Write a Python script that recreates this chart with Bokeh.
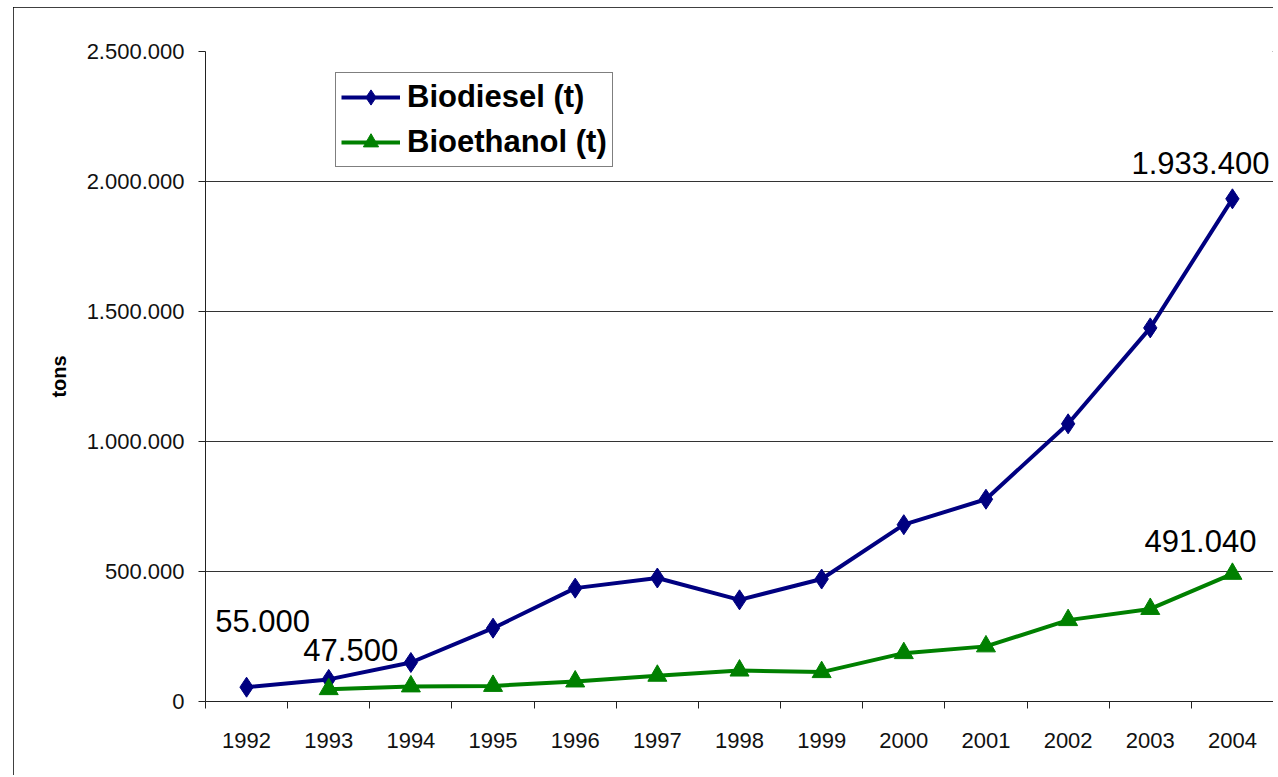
import math
from bokeh.plotting import figure
from bokeh.models import FixedTicker, Legend, LegendItem, ColumnDataSource
from bokeh.core.properties import value
from bokeh.embed import file_html
from bokeh.resources import INLINE

# ---- data ----
years = ["1992", "1993", "1994", "1995", "1996", "1997", "1998",
         "1999", "2000", "2001", "2002", "2003", "2004"]
biodiesel = [55000, 85000, 150000, 282000, 436000, 475000, 391000,
             471000, 680000, 778000, 1068000, 1437000, 1933400]
bioethanol = [math.nan, 47500, 58000, 60000, 77000, 99000, 119000,
              113000, 186000, 212000, 313000, 356000, 491040]
y_ticks = [0, 500000, 1000000, 1500000, 2000000, 2500000]
y_tick_labels = ["0", "500.000", "1.000.000", "1.500.000", "2.000.000", "2.500.000"]
# annotated points: (series, year)
annotated = [("Biodiesel", "1992"), ("Bioethanol", "1993"),
             ("Biodiesel", "2004"), ("Bioethanol", "2004")]
# label offsets in pixels (style)
label_offsets = [(16, -66), (22, -39), (-32, -36), (-32, -33)]

FONT = "Liberation Sans"
BLUE = "#000080"
GREEN = "#008000"

xs = list(range(1, len(years) + 1))

p = figure(frame_width=1068, frame_height=650,
           x_range=(0.5, len(years) + 0.5), y_range=(y_ticks[0], y_ticks[-1]),
           output_backend="svg", toolbar_location=None,
           min_border_left=192, min_border_right=0,
           min_border_top=44, min_border_bottom=74)
p.margin = (7, 0, 0, 13)
p.styles = {"outline": "1px solid #000000", "outline-offset": "-1px"}
p.outline_line_color = None
p.background_fill_color = "white"
p.border_fill_color = "white"

# series
bd_line = p.line(xs, biodiesel, line_width=4, color=BLUE)
bd_mark = p.scatter(xs, biodiesel, marker="diamond", size=20, color=BLUE)
eth_x = [x for x, v in zip(xs, bioethanol) if not math.isnan(v)]
eth_y = [v for v in bioethanol if not math.isnan(v)]
et_line = p.line(eth_x, eth_y, line_width=4, color=GREEN)
et_mark = p.scatter(eth_x, eth_y, marker="triangle", size=19, color=GREEN)

# data labels
series_map = {"Biodiesel": biodiesel, "Bioethanol": bioethanol}
lx, ly, lt, ox, oy = [], [], [], [], []
for (s, yr), (dx, dy) in zip(annotated, label_offsets):
    i = years.index(yr)
    v = series_map[s][i]
    lx.append(xs[i]); ly.append(v)
    lt.append(f"{int(v):,}".replace(",", "."))
    ox.append(dx); oy.append(dy)
src = ColumnDataSource(dict(x=lx, y=ly, t=lt, ox=ox, oy=oy))
p.text(x="x", y="y", text="t", x_offset="ox", y_offset="oy", source=src,
       text_font=value(FONT), text_font_size="31px", text_color="#000000",
       text_align="center", text_baseline="middle")

# axes
p.xgrid.visible = False
p.ygrid.ticker = FixedTicker(ticks=y_ticks[1:-1])
p.ygrid.grid_line_color = "#333333"
p.ygrid.grid_line_width = 1

xa = p.xaxis[0]
xa.ticker = FixedTicker(ticks=xs, minor_ticks=[x - 0.5 for x in xs] + [xs[-1] + 0.5])
xa.major_label_overrides = {x: y for x, y in zip(xs, years)}
xa.major_tick_line_color = None
xa.major_tick_out = 0
xa.major_tick_in = 0
xa.minor_tick_line_color = "#222222"
xa.minor_tick_out = 7
xa.minor_tick_in = 0
xa.major_label_standoff = 24
xa.axis_line_color = "#222222"
xa.major_label_text_font = FONT
xa.major_label_text_font_size = "22px"
xa.major_label_text_color = "#111111"

ya = p.yaxis[0]
ya.ticker = FixedTicker(ticks=y_ticks)
ya.major_label_overrides = {t: l for t, l in zip(y_ticks, y_tick_labels)}
ya.minor_tick_line_color = None
ya.major_tick_out = 7
ya.major_tick_in = 0
ya.major_tick_line_color = "#222222"
ya.axis_line_color = "#222222"
ya.major_label_standoff = 14
ya.major_label_text_font = FONT
ya.major_label_text_font_size = "22px"
ya.major_label_text_color = "#111111"
ya.axis_label = "tons"
ya.axis_label_text_font = FONT
ya.axis_label_text_font_size = "20px"
ya.axis_label_text_font_style = "bold"
ya.axis_label_text_color = "#000000"
ya.axis_label_standoff = 14

legend = Legend(items=[LegendItem(label="Biodiesel (t)", renderers=[bd_line, bd_mark]),
                       LegendItem(label="Bioethanol (t)", renderers=[et_line, et_mark])],
                location=(130, 534))
legend.border_line_color = "#000000"
legend.border_line_width = 1.5
legend.background_fill_color = "white"
legend.background_fill_alpha = 1
legend.padding = 5
legend.margin = 0
legend.spacing = 7
legend.glyph_width = 59
legend.glyph_height = 38
legend.label_height = 38
legend.label_standoff = 7
legend.label_text_font = FONT
legend.label_text_font_size = "31px"
legend.label_text_font_style = "bold"
legend.label_text_color = "#000000"
legend.label_text_baseline = "middle"
p.add_layout(legend, "center")

open("out.html", "w").write(file_html(p, INLINE))
